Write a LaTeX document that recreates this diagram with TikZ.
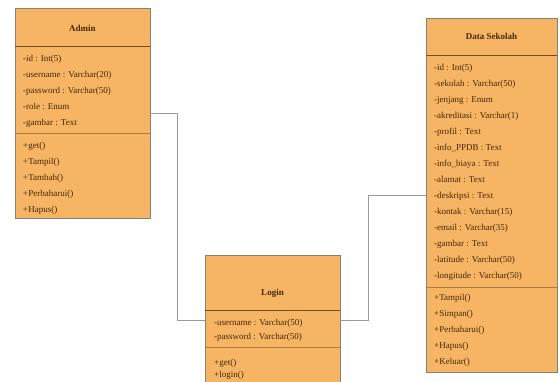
\documentclass[tikz,border=0pt]{standalone}
\usepackage{fontspec}
\setmainfont{Liberation Serif}
\usetikzlibrary{positioning,calc}
\definecolor{cFill}{HTML}{F5B564}
\definecolor{cEdge}{HTML}{8C8070}
\definecolor{cRule}{HTML}{7A4A14}
\definecolor{cSep}{HTML}{B07A3A}
\definecolor{cText}{HTML}{4A2604}
\definecolor{cLink}{HTML}{9A9A9A}
\tikzset{
  cls/.style   ={rectangle,draw=cEdge,fill=cFill,line width=0.8pt,inner sep=0pt},
  ctitle/.style={font=\fontsize{9}{10}\selectfont\bfseries,text=cText},
  rows/.style  ={anchor=north west,align=left,inner sep=0pt,text=cText,font=\fontsize{9}{16}\selectfont},
  rule/.style  ={cRule,line width=0.9pt},
  sep/.style   ={cSep,line width=0.7pt},
  link/.style  ={cLink,line width=0.8pt},
}

\begin{document}
\begin{tikzpicture}[x=1pt,y=-1pt]
  \useasboundingbox (0,0) rectangle (560,382);

  % Admin
  \node[cls,minimum width=135pt,minimum height=210pt] (admin) at (82.5,113) {};
  \node[ctitle] (admt) at (82.5,28) {Admin};
  \draw[rule] (15,46) -- (150,46);
  \draw[sep] (15,133) -- (150,133);
  \node[rows] (adma) at (23,55)
        {-id : Int(5)\\-username : Varchar(20)\\-password : Varchar(50)\\-role : Enum\\-gambar : Text};
  \node[rows] (admm) at (23,142)
        {+get()\\+Tampil()\\+Tambah()\\+Perbaharui()\\+Hapus()};

  % Login
  \node[cls,minimum width=135pt,minimum height=130pt] (login) at (272.5,320) {};
  \node[ctitle] (logt) at (272.5,293) {Login};
  \draw[rule] (205,310) -- (340,310);
  \draw[sep] (205,347) -- (340,347);
  \node[rows,font=\fontsize{9}{14}\selectfont] (loga) at (214,319.5)
        {-username : Varchar(50)\\-password : Varchar(50)};
  \node[rows,font=\fontsize{9}{12}\selectfont] (logm) at (214,359)
        {+get()\\+login()};

  % Data Sekolah
  \node[cls,minimum width=131pt,minimum height=354pt] (sekolah) at (491.5,195) {};
  \node[ctitle] (sekt) at (491.5,36) {Data Sekolah};
  \draw[rule] (426,55) -- (557,55);
  \draw[sep] (426,287) -- (557,287);
  \node[rows] (seka) at (434,64)
        {-id : Int(5)\\-sekolah : Varchar(50)\\-jenjang : Enum\\-akreditasi : Varchar(1)\\-profil : Text\\-info\_PPDB : Text\\-info\_biaya : Text\\-alamat : Text\\-deskripsi : Text\\-kontak : Varchar(15)\\-email : Varchar(35)\\-gambar : Text\\-latitude : Varchar(50)\\-longitude : Varchar(50)};
  \node[rows] (sekm) at (434,294)
        {+Tampil()\\+Simpan()\\+Perbaharui()\\+Hapus()\\+Keluar()};

  \draw[link] (admin.east) -- ++(27,0) |- (login.west);
  \draw[link] (login.east) -- ++(28,0) |- (sekolah.west);
\end{tikzpicture}
\end{document}
